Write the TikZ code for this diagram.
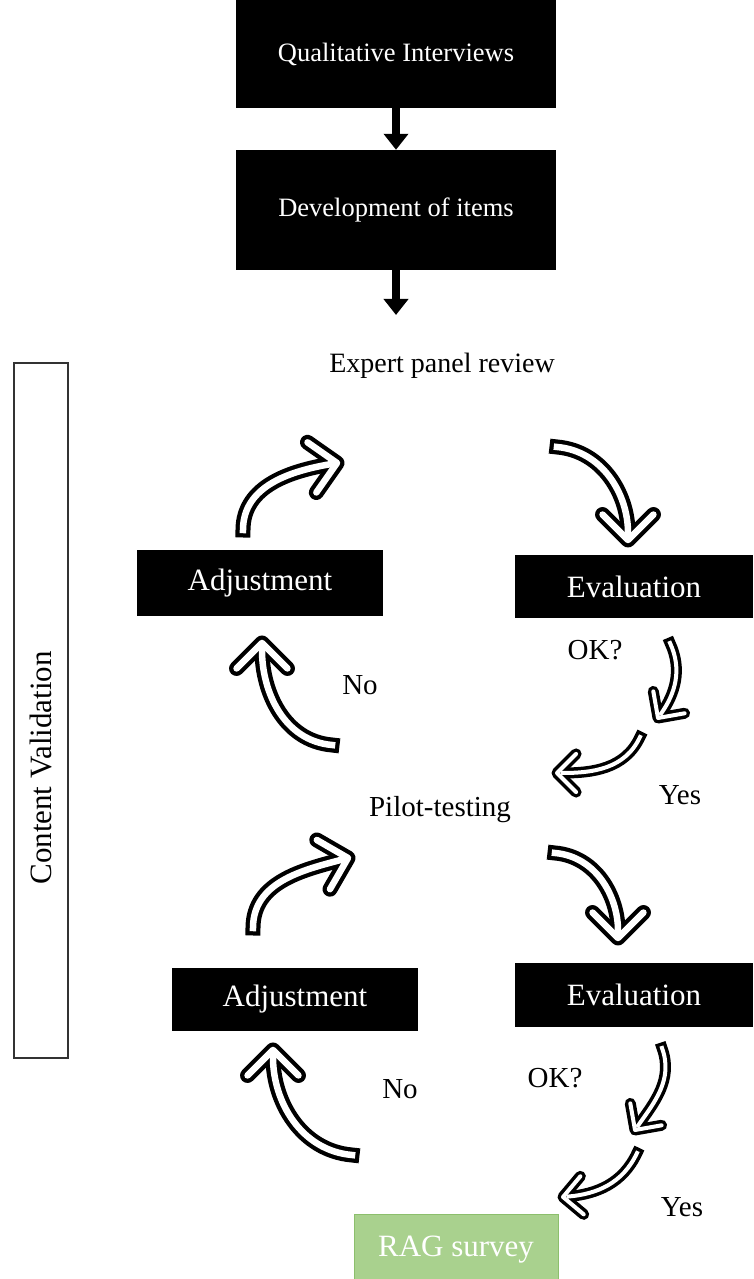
\documentclass[tikz,border=0pt]{standalone}
\usepackage{fontspec}
\setmainfont{Liberation Serif}
\usetikzlibrary{arrows.meta,calc}

\definecolor{ragfill}{HTML}{A9D18E}
\definecolor{ragline}{HTML}{8CBF6C}

% hohler Bogenpfeil: Start, out, in, Spitze, Schenkellaenge, Breite aussen, Breite innen
\newcommand{\bentarrow}[7]{%
  \foreach \col/\lw in {black/#6, white/#7} {
    \draw[line width=\lw, \col, line cap=rect, shorten >={#6/2}] (#1) to[out=#2, in=#3] (#4);
    \draw[line width=\lw, \col, line cap=round, line join=round]
      ($(#4)+(#3+45:#5)$) -- (#4) -- ($(#4)+(#3-45:#5)$);
  }%
}

\begin{document}
\begin{tikzpicture}[x=1pt, y=1pt,
  blackbox/.style={fill=black, text=white, inner sep=0pt, font=\fontsize{31}{36}\selectfont},
  toptext/.style={font=\fontsize{26.5}{31}\selectfont},
  freetext/.style={inner sep=0pt, font=\fontsize{29}{34}\selectfont},
  downarrow/.style={line width=8pt, -{Triangle[width=24pt, length=16pt]}}]
  \useasboundingbox (0,0) rectangle (753,1279);

  % Kaesten oben
  \node[blackbox, toptext, minimum width=320pt, minimum height=108pt] (qual) at (396,1225) {Qualitative Interviews};
  \node[blackbox, toptext, minimum width=320pt, minimum height=120pt] (dev) at (396,1069) {Development of items};
  \coordinate (devend) at (396,964);

  % Pfeile nach unten
  \draw[downarrow] (qual) -- (dev);
  \draw[downarrow] (dev) -- (devend);

  % Rahmen links
  \node[draw=black!80, line width=1.2pt, minimum width=54pt, minimum height=695pt] (cvbox) at (41,568.5) {};
  \node[freetext, rotate=90, font=\fontsize{31}{36}\selectfont] (cvtext) at (41,511) {Content Validation};

  % erste Runde
  \node[freetext, font=\fontsize{28}{33}\selectfont] (expert) at (442,913) {Expert panel review};
  \node[blackbox, minimum width=246pt, minimum height=66pt] (adj1) at (260,696) {Adjustment};
  \node[blackbox, minimum width=238pt, minimum height=63pt] (eval1) at (634,692.5) {Evaluation};
  \node[freetext] (ok1) at (595,629) {OK?};
  \node[freetext] (no1) at (360,594) {No};
  \node[freetext] (yes1) at (680,484) {Yes};

  % zweite Runde
  \node[freetext] (pilot) at (440,469) {Pilot-testing};
  \node[blackbox, minimum width=246pt, minimum height=63pt] (adj2) at (295,279.5) {Adjustment};
  \node[blackbox, minimum width=238pt, minimum height=64pt] (eval2) at (634,284) {Evaluation};
  \node[freetext] (ok2) at (555,201) {OK?};
  \node[freetext] (no2) at (400,190) {No};
  \node[freetext] (yes2) at (682,72) {Yes};
  \node[fill=ragfill, draw=ragline, line width=1pt, text=white, minimum width=204pt, minimum height=70pt,
    font=\fontsize{31}{36}\selectfont] (rag) at (456,29) {RAG survey};

  % Bogenpfeile erste Runde
  \bentarrow{243,749}{90}{190}{337,816}{36}{15pt}{6.5pt}
  \bentarrow{557,832}{-5}{90}{628,739}{36}{15pt}{6.5pt}
  \bentarrow{670,636}{-65}{55}{658,561}{27}{11pt}{4pt}
  \bentarrow{640,542}{245}{0}{557,506}{27}{11pt}{4pt}
  \bentarrow{332,534}{175}{-90}{262,636}{36}{15pt}{6.5pt}

  % Bogenpfeile zweite Runde
  \bentarrow{253,351}{90}{195}{348,421}{36}{15pt}{6.5pt}
  \bentarrow{555,426}{-5}{90}{618,341}{36}{15pt}{6.5pt}
  \bentarrow{352,124}{175}{-90}{273,229}{36}{15pt}{6.5pt}
  \bentarrow{662,231}{-70}{55}{635,149}{27}{11pt}{4pt}
  \bentarrow{637,126}{245}{5}{563,82}{27}{11pt}{4pt}
\end{tikzpicture}
\end{document}
